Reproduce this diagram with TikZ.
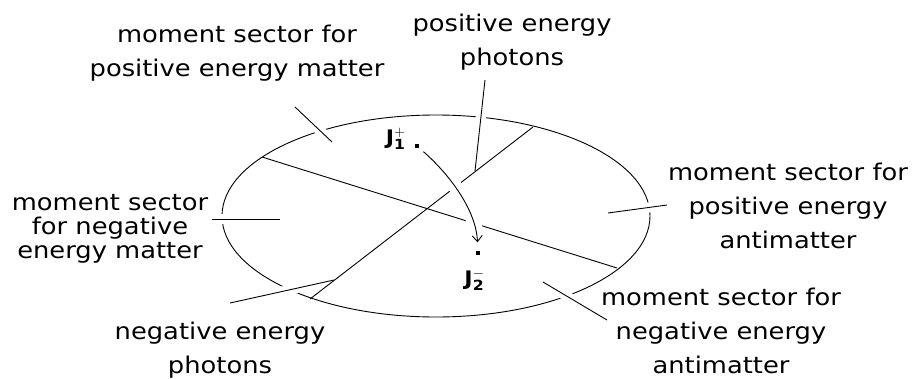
\documentclass[tikz,border=0pt]{standalone}
\usepackage{fontspec}
\setmainfont{DejaVu Sans}[FakeStretch=1.12]
\usetikzlibrary{arrows.meta,shapes.geometric}
\begin{document}
\begin{tikzpicture}[x=1pt,y=-1pt,
  line width=0.9pt,
  lab/.style={align=center,inner sep=0pt,font=\fontsize{23}{34}\selectfont},
  labtight/.style={align=center,inner sep=0pt,font=\fontsize{23}{24}\selectfont},
  halo/.style={draw=white,line width=10pt},
  arrowhalo/.style={draw=white,line width=14pt},
  dotnode/.style={fill=black,inner sep=0pt,minimum size=4.5pt,rectangle},
  jlab/.style={inner sep=0pt,font=\fontsize{20}{24}\selectfont\bfseries},
  tip/.style={-{Straight Barb[length=6pt,width=10pt]}}
]
\useasboundingbox (0,0) rectangle (916,378);

% ellipse
\node[ellipse,draw,inner sep=0pt,minimum width=428pt,minimum height=202pt] (E) at (436,216) {};

% coordinates
\coordinate (c1a) at (262,157);
\coordinate (c1b) at (617,268);
\coordinate (c2a) at (310,299);
\coordinate (c2b) at (533,127);
\coordinate (p1a) at (295,107); \coordinate (p1b) at (332,142);
\coordinate (p2a) at (485,80);  \coordinate (p2b) at (475,171);
\coordinate (p3a) at (212,219); \coordinate (p3b) at (280,219);
\coordinate (p4a) at (608,213); \coordinate (p4b) at (667,205);
\coordinate (p5a) at (543,282); \coordinate (p5b) at (607,320);
\coordinate (p6a) at (230,303); \coordinate (p6b) at (334,280);

% halos of pointers (gaps in ellipse)
\draw[halo] (p1a) -- (p1b);
\draw[halo] (p2a) -- (p2b);
\draw[halo] (p3a) -- (p3b);
\draw[halo] (p4a) -- (p4b);
\draw[halo] (p5a) -- (p5b);
\draw[halo] (p6a) -- (p6b);

% chords
\draw (c1a) -- (c1b);
\draw (c2a) -- (c2b);

% pointers
\draw (p1a) -- (p1b);
\draw (p2a) -- (p2b);
\draw (p3a) -- (p3b);
\draw (p4a) -- (p4b);
\draw (p5a) -- (p5b);
\draw (p6a) -- (p6b);

% dots
\node[dotnode] (j1) at (417,146) {};
\node[dotnode] (j2) at (478,253) {};

% arrow
\draw[arrowhalo,shorten <=5pt,shorten >=8pt] (j1) .. controls (450,175) and (476,210) .. (j2);
\draw[tip,shorten <=5pt,shorten >=8pt] (j1) .. controls (450,175) and (476,210) .. (j2);
\node[dotnode] at (j1) {};
\node[dotnode] at (j2) {};

% J labels
\node[jlab,anchor=east] (J1) at (406,139) {J$^{\mathbf{+}}_{\mathbf{1}}$};
\node[jlab,anchor=west] (J2) at (464,280) {J$^{\mathbf{-}}_{\mathbf{2}}$};

% text labels
\node[lab] (tl) at (237,53) {moment sector for\\positive energy matter};
\node[lab] (tp) at (512,42) {positive energy\\photons};
\node[labtight] (lf) at (110,229) {moment sector\\for negative\\energy matter};
\node[lab] (rt) at (788,206) {moment sector for\\positive energy\\antimatter};
\node[lab] (br) at (721,331) {moment sector for\\negative energy\\antimatter};
\node[lab] (bl) at (220,350) {negative energy\\photons};
\end{tikzpicture}
\end{document}
